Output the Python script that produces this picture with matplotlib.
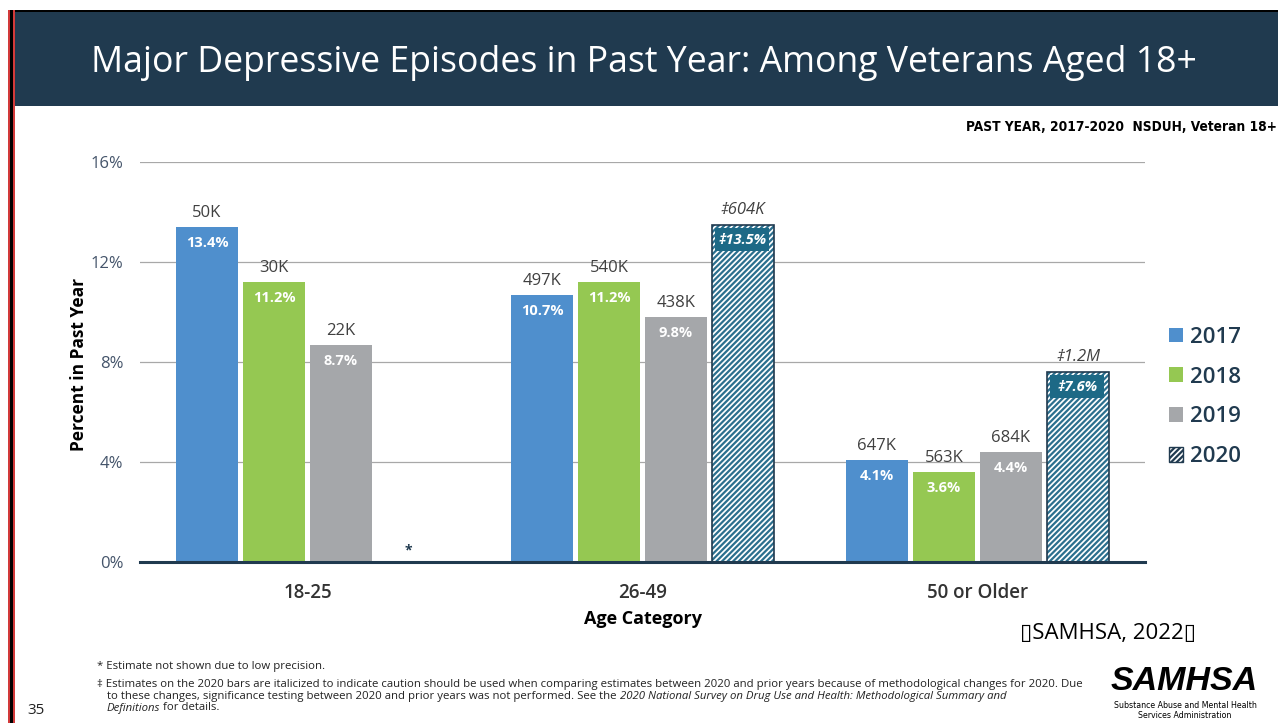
import numpy as np
import matplotlib
matplotlib.use('Agg')
import matplotlib.pyplot as plt
from matplotlib.patches import Rectangle, Patch

plt.rcParams['font.family'] = ['Open Sans', 'DejaVu Sans']
plt.rcParams['hatch.linewidth'] = 1.6

groups = ["18-25", "26-49", "50 or Older"]
years = ["2017", "2018", "2019", "2020"]
pct = {
    "2017": [13.4, 10.7, 4.1],
    "2018": [11.2, 11.2, 3.6],
    "2019": [8.7, 9.8, 4.4],
    "2020": [None, 13.5, 7.6],
}
counts = {
    "2017": ["50K", "497K", "647K"],
    "2018": ["30K", "540K", "563K"],
    "2019": ["22K", "438K", "684K"],
    "2020": [None, "604K", "1.2M"],
}
colors = {"2017": "#4f8fcd", "2018": "#95c852", "2019": "#a5a7aa", "2020": "white"}
hatch_col = "#2b6f8e"
navy = "#203a4f"
label_col = "#404040"

W, H = 1278, 723
fig = plt.figure(figsize=(W / 100, H / 100), dpi=100)

# header band and slide border
fig.patches.append(Rectangle((14 / W, 1 - 106 / H), 1, 94 / H, transform=fig.transFigure,
                             facecolor=navy, edgecolor="none", zorder=0))
fig.patches.append(Rectangle((10 / W, 1 - 12 / H), 1, 2.5 / H, transform=fig.transFigure,
                             facecolor="black", edgecolor="none", zorder=1))
fig.patches.append(Rectangle((8 / W, 0), 7 / W, 1 - 10 / H, transform=fig.transFigure,
                             facecolor="#d23a3a", edgecolor="none", zorder=1))
fig.patches.append(Rectangle((10 / W, 0), 2.5 / W, 1 - 10 / H, transform=fig.transFigure,
                             facecolor="black", edgecolor="none", zorder=2))

fig.text(644 / W, 1 - 63 / H, "Major Depressive Episodes in Past Year: Among Veterans Aged 18+",
         color="white", fontsize=25.7, ha="center", va="center")
fig.text(1277 / W, 1 - 127 / H, "PAST YEAR, 2017-2020  NSDUH, Veteran 18+",
         family="DejaVu Sans", fontstretch="condensed", fontweight="bold", fontsize=9.8,
         ha="right", va="center", color="black")

ax = fig.add_axes([140 / W, 1 - 562 / H, 1005 / W, 400 / H])
x = np.arange(len(groups))
step, width = 0.2, 0.188

for i, yr in enumerate(years):
    off = (i - 1.5) * step
    for g in range(len(groups)):
        v = pct[yr][g]
        xc = x[g] + off
        if v is None:
            ax.text(xc, 0.2, "*", ha="center", va="bottom", color=navy, fontsize=10, fontweight="bold")
            continue
        if yr == "2020":
            ax.bar(xc, v, width, color="white", edgecolor=hatch_col, hatch="//////", linewidth=0, zorder=2)
            ax.bar(xc, v, width, color="none", edgecolor=navy, linewidth=1.2, zorder=3)
            ax.add_patch(Rectangle((xc - width * 0.44, v - 1.05), width * 0.86, 0.92,
                                   facecolor="#1d6986", edgecolor="none", zorder=4))
            ax.text(xc, v - 0.6, "\u2021" + f"{v:.1f}%", ha="center", va="center", color="white",
                    fontsize=10.5, fontweight="bold", style="italic", zorder=5)
            ax.text(xc, v + 0.6, "\u2021" + counts[yr][g], ha="center", va="center", color=label_col,
                    fontsize=12, style="italic", zorder=5)
        else:
            ax.bar(xc, v, width, color=colors[yr], edgecolor="none", zorder=2)
            ax.text(xc, v - 0.65, f"{v:.1f}%", ha="center", va="center", color="white",
                    fontsize=10.5, fontweight="bold", zorder=5)
            ax.text(xc, v + 0.55, counts[yr][g], ha="center", va="center", color=label_col,
                    fontsize=12, zorder=5)

ax.set_xlim(-0.5, 2.5)
ax.set_ylim(0, 16)
ax.set_yticks([0, 4, 8, 12, 16])
ax.set_yticklabels(["0%", "4%", "8%", "12%", "16%"], color="#44546a", fontsize=12)
ax.set_xticks(x)
ax.set_xticklabels(groups, fontsize=13.5, fontweight="semibold", color="#333333")
ax.tick_params(axis="both", length=0)
ax.tick_params(axis="y", pad=12)
ax.tick_params(axis="x", pad=15)
ax.grid(axis="y", color="#a8a8a8", linewidth=0.9, zorder=0)
ax.set_axisbelow(True)
for s in ["top", "right", "left"]:
    ax.spines[s].set_visible(False)
ax.spines["bottom"].set_color(navy)
ax.spines["bottom"].set_linewidth(2.2)
ax.spines["bottom"].set_zorder(6)

ax.set_xlabel("Age Category", fontsize=13, fontweight="bold", labelpad=5)
fig.text(79 / W, 1 - 364 / H, "Percent in Past Year", fontsize=12.5, fontweight="bold",
         rotation=90, ha="center", va="center", color="black")

handles = [Patch(facecolor=colors[y], edgecolor="none") for y in years[:3]]
handles.append(Patch(facecolor="white", edgecolor=navy, hatch="//////", linewidth=1))
leg = fig.legend(handles, years, loc="center left", bbox_to_anchor=(1169 / W, 1 - 397 / H),
                 frameon=False, fontsize=16, handlelength=0.63, handleheight=0.63,
                 handletextpad=0.3, labelspacing=0.85, borderpad=0, borderaxespad=0)
for t in leg.get_texts():
    t.set_color(navy)
    t.set_fontweight("semibold")

fig.text(1020 / W, 1 - 633 / H, "\u25af" + "SAMHSA, 2022" + "\u25af", fontsize=16,
         ha="left", va="center", color="black")

# footnotes, some runs italic
fig.canvas.draw()
renderer = fig.canvas.get_renderer()


def runs(x0, y0, parts, size=8.2):
    xp = x0
    for txt, it in parts:
        t = fig.text(xp / W, 1 - y0 / H, txt, fontsize=size, style="italic" if it else "normal",
                     ha="left", va="center", color="#222222")
        bb = t.get_window_extent(renderer)
        xp += bb.width


runs(97, 667, [("* Estimate not shown due to low precision.", False)])
runs(97, 684, [("\u2021 Estimates on the 2020 bars are italicized to indicate caution should be used when "
                "comparing estimates between 2020 and prior years because of methodological changes for 2020. Due", False)])
runs(107, 696, [("to these changes, significance testing between 2020 and prior years was not performed. See the ", False),
                ("2020 National Survey on Drug Use and Health: Methodological Summary and", True)])
runs(107, 708, [("Definitions", True), (" for details.", False)])

fig.text(27 / W, 1 - 710 / H, "35", fontsize=11, ha="left", va="center", color="#222222")

# agency mark
fig.text(1184 / W, 1 - 682 / H, "SAMHSA", fontsize=24.5, fontweight="bold", style="italic",
         family="Liberation Sans", ha="center", va="center", color="black")
fig.text(1185 / W, 1 - 705 / H, "Substance Abuse and Mental Health", fontsize=6.3,
         family="DejaVu Sans", fontstretch="condensed", ha="center", va="center", color="black")
fig.text(1185 / W, 1 - 715 / H, "Services Administration", fontsize=6.3,
         family="DejaVu Sans", fontstretch="condensed", ha="center", va="center", color="black")

fig.savefig("out.png", dpi=100)
